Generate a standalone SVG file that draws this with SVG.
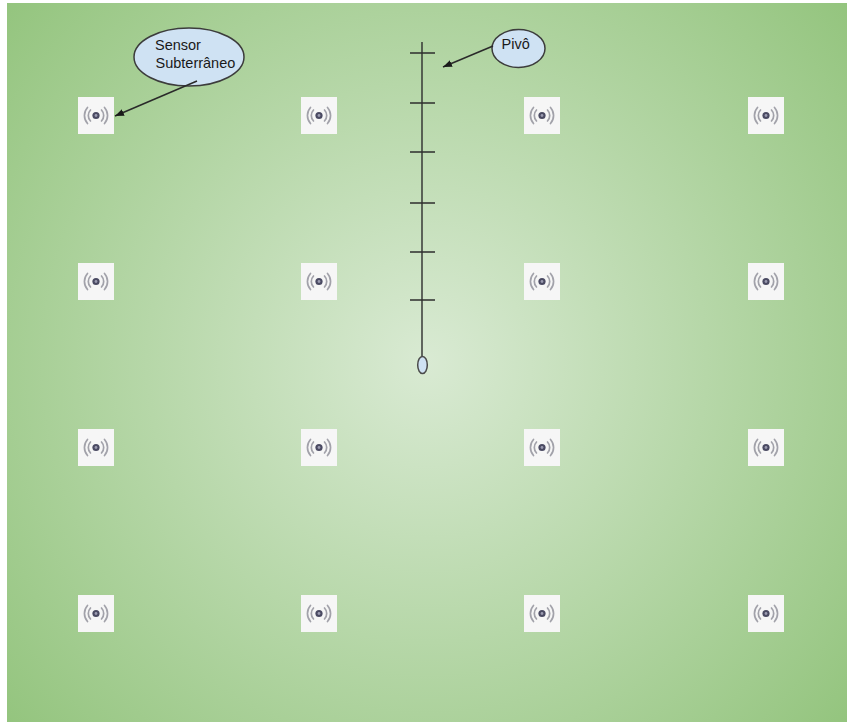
<svg xmlns="http://www.w3.org/2000/svg" xmlns:xlink="http://www.w3.org/1999/xlink" width="847" height="722" viewBox="0 0 847 722">
<style>
.tile{fill:#f6f6f6}
.wave{fill:none;stroke:#a2a2aa;stroke-width:1.7;stroke-linecap:round}
.bubble{fill:#cfe2f3;stroke:#3c3c3c;stroke-width:1.5}
.line{fill:none;stroke:#2a2a2a;stroke-width:1.5}
.pivot{fill:none;stroke:#2e2e2e;stroke-width:1.4}
.lbl{font-family:"Liberation Sans",Arial,sans-serif;font-size:14.5px;fill:#1a1a1a}
</style>
<defs>
<radialGradient id="bg" gradientUnits="userSpaceOnUse" cx="427" cy="362" r="560">
<stop offset="0" stop-color="#d9ead3"/>
<stop offset="1" stop-color="#93c47d"/>
</radialGradient>
<marker id="arrow" markerUnits="userSpaceOnUse" markerWidth="10" markerHeight="8" refX="9" refY="3.500" orient="auto">
<path d="M0 0L9 3.500L0 7Z" fill="#1a1a1a"/>
</marker>
<g id="sensor">
<rect class="tile" width="36" height="37"/>
<circle cx="18" cy="18.500" r="3.600" fill="#4a4a62"/>
<circle cx="18" cy="18.500" r="1.400" fill="#9a9ab0"/>
<path class="wave" d="M12.500 13A8 8 0 0 0 12.500 24M23.500 13A8 8 0 0 1 23.500 24M9.500 10.500A12 12 0 0 0 9.500 26.500M26.500 10.500A12 12 0 0 1 26.500 26.500"/>
</g>
</defs>
<rect id="field" x="7" y="3" width="840" height="719" fill="url(#bg)"/>
<g id="pivot-machine">
<path class="pivot" d="M422 42V357M410 53H435M410 103H435M410 152H435M410 203H435M410 252H435M410 300H435"/>
<ellipse cx="422.500" cy="365" rx="4.800" ry="8.500" fill="#cfe2f3" stroke="#4a4a4a" stroke-width="1.500"/>
</g>
<g id="sensors">
<use id="s11" href="#sensor" x="78" y="97"/><use id="s12" href="#sensor" x="301" y="97"/><use id="s13" href="#sensor" x="524" y="97"/><use id="s14" href="#sensor" x="748" y="97"/>
<use id="s21" href="#sensor" x="78" y="263"/><use id="s22" href="#sensor" x="301" y="263"/><use id="s23" href="#sensor" x="524" y="263"/><use id="s24" href="#sensor" x="748" y="263"/>
<use id="s31" href="#sensor" x="78" y="429"/><use id="s32" href="#sensor" x="301" y="429"/><use id="s33" href="#sensor" x="524" y="429"/><use id="s34" href="#sensor" x="748" y="429"/>
<use id="s41" href="#sensor" x="78" y="595"/><use id="s42" href="#sensor" x="301" y="595"/><use id="s43" href="#sensor" x="524" y="595"/><use id="s44" href="#sensor" x="748" y="595"/>
</g>
<g id="callout-sensor">
<ellipse class="bubble" cx="189" cy="57" rx="55" ry="29"/>
<text class="lbl" x="155" y="49.500">Sensor</text>
<text class="lbl" x="155.500" y="67.500">Subterrâneo</text>
</g>
<g id="callout-pivo">
<ellipse class="bubble" cx="518.500" cy="48.500" rx="26.500" ry="19"/>
<text class="lbl" x="501.500" y="49">Pivô</text>
</g>
<g id="connectors">
<path class="line" d="M197 81L115 116" marker-end="url(#arrow)"/>
<path class="line" d="M493 46L443 67" marker-end="url(#arrow)"/>
</g>
</svg>
